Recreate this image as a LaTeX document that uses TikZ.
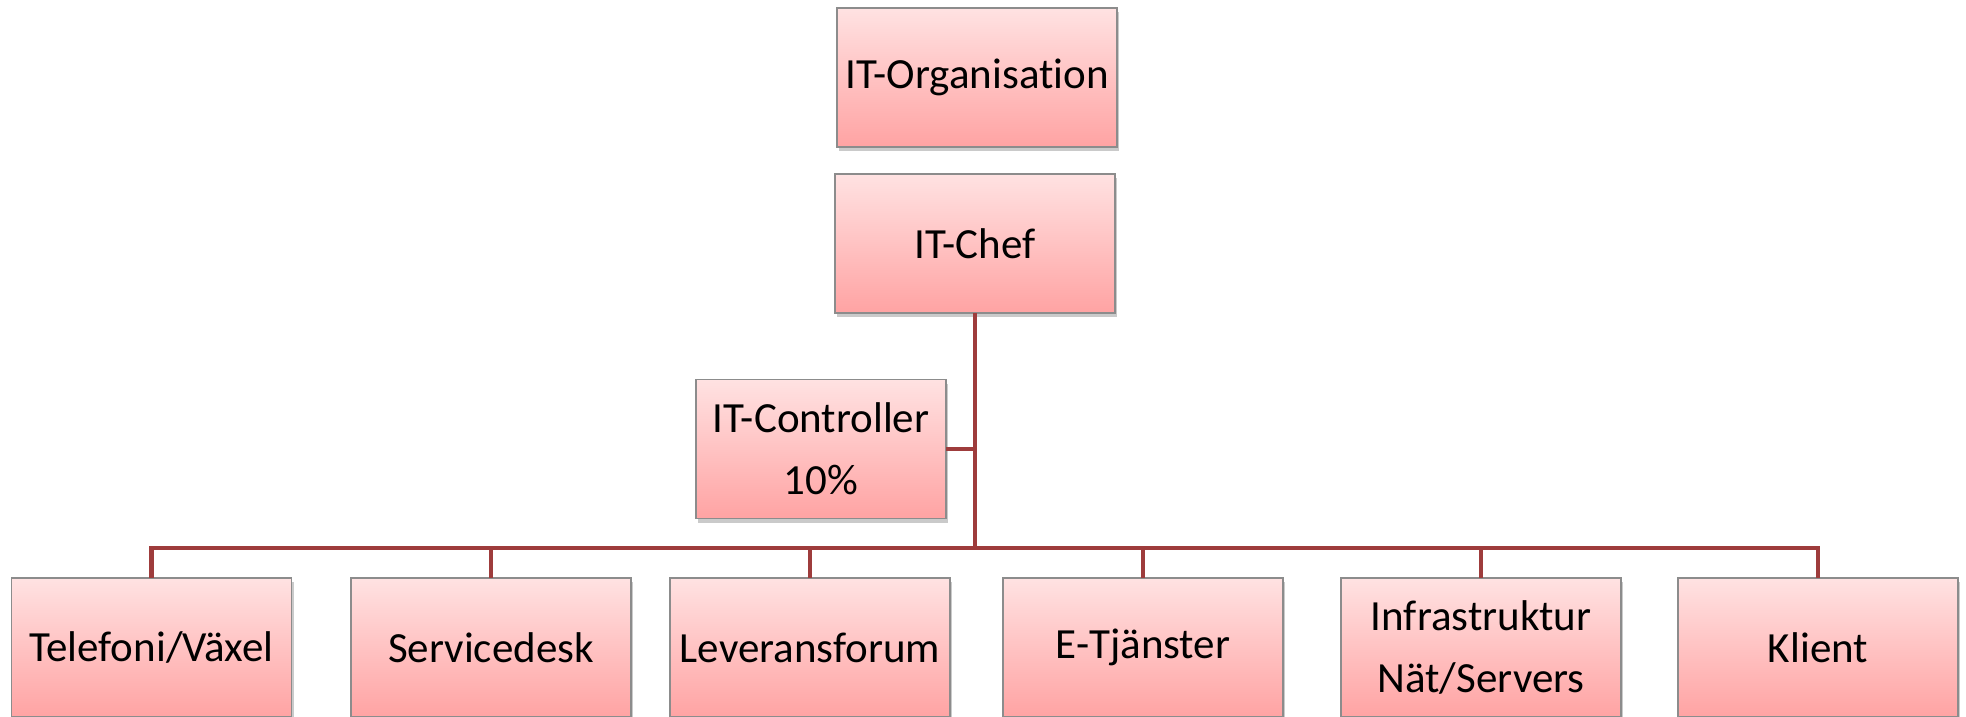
\documentclass[tikz,border=0pt]{standalone}
\usepackage{fontspec}
\setmainfont{Carlito}[Ligatures=NoCommon]
\usetikzlibrary{shadows,calc}
\definecolor{boxtop}{RGB}{255,226,226}
\definecolor{boxbot}{RGB}{255,163,163}
\definecolor{boxline}{RGB}{140,140,140}
\definecolor{conn}{RGB}{158,60,60}
\tikzset{
  orgbox/.style={rectangle, draw=boxline, line width=0.7pt, top color=boxtop, bottom color=boxbot,
    minimum width=140pt, minimum height=69.5pt, inner sep=0pt, outer sep=0pt, align=center,
    font=\fontsize{21.5pt}{31pt}\selectfont,
    drop shadow={opacity=0.35, shadow xshift=1pt, shadow yshift=-2pt, fill=black!60}},
  orgline/.style={draw=conn, line width=2.4pt}
}
\begin{document}
\begin{tikzpicture}[x=0.5pt,y=-0.5pt]
\useasboundingbox (0,0) rectangle (1966,717);
\node[orgbox] (org) at (977,77.5) {IT-Organisation};
\node[orgbox] (chef) at (975,243.5) {IT-Chef};
\node[orgbox, minimum width=125pt] (ctrl) at (821,449) {IT-Controller\\10\%};
\node[orgbox] (tel) at (151.5,647.5) {Telefoni/Växel};
\node[orgbox] (serv) at (491,647.5) {Servicedesk};
\node[orgbox] (lev) at (810,647.5) {Leveransforum};
\node[orgbox] (etj) at (1143,647.5) {E-Tjänster};
\node[orgbox] (infra) at (1481,647.5) {Infrastruktur\\Nät/Servers};
\node[orgbox] (kli) at (1818,647.5) {Klient};
\coordinate (j) at (975,548);
\draw[orgline] (chef.south) -- (j);
\draw[orgline] (ctrl.east) -- (ctrl.east -| j);
\draw[orgline] (tel.north) |- (j) -| (kli.north);
\draw[orgline] (serv.north) -- (serv.north |- j);
\draw[orgline] (lev.north) -- (lev.north |- j);
\draw[orgline] (etj.north) -- (etj.north |- j);
\draw[orgline] (infra.north) -- (infra.north |- j);
\end{tikzpicture}
\end{document}
